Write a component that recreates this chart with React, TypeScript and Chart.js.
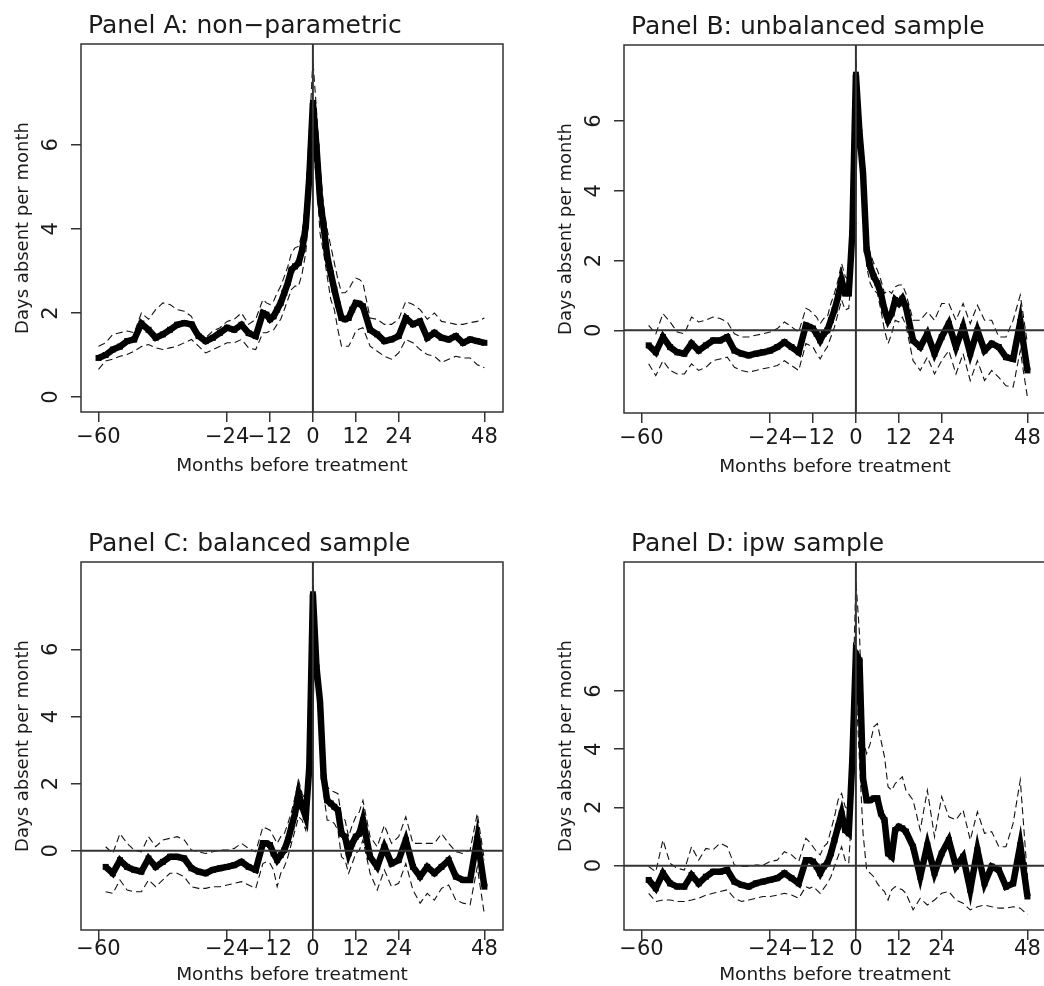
import React, { useEffect, useRef } from 'react';
import { Chart, registerables } from 'chart.js';

Chart.register(...registerables);

const FONT = '"DejaVu Sans", "Liberation Sans", Arial, sans-serif';

// Months relative to treatment (x positions of the estimates)
const MONTHS = [
  -60, -58, -56, -54, -52, -50, -48, -46, -44, -42, -40, -38, -36, -34, -32, -30, -28, -26, -24, -22, -20, -18, -16, -14,
  -13, -12, -11, -10, -9, -8, -7, -6, -5, -4, -3, -2, -1, 0, 1, 2, 3, 4, 5, 6, 7, 8, 9, 10, 11, 12, 13,
  14, 16, 18, 20, 22, 24, 26, 28, 30, 32, 34, 36, 38, 40, 42, 44, 46, 48,
];

const X_TICKS = [-60, -24, -12, 0, 12, 24, 48];
const Y_TICKS = [0, 2, 4, 6];

// Panel A: non-parametric
const A_MEAN = [
  0.93, 1.0, 1.13, 1.2, 1.33, 1.37, 1.75, 1.6, 1.41, 1.49, 1.6, 1.72, 1.76, 1.73, 1.45, 1.33, 1.41, 1.53, 1.65, 1.6, 1.72, 1.52, 1.45, 2.0,
  1.96, 1.85, 1.92, 2.08, 2.24, 2.48, 2.72, 3.03, 3.11, 3.19, 3.5, 4.06, 5.25, 7.0, 5.96, 4.7, 4.06, 3.35, 2.95, 2.56, 2.2, 1.88, 1.85, 1.88, 2.08, 2.24, 2.22,
  2.16, 1.6, 1.49, 1.33, 1.37, 1.45, 1.88, 1.73, 1.8, 1.41, 1.53, 1.41, 1.37, 1.45, 1.29, 1.37, 1.33, 1.29,
];
const A_UPPER = [
  1.21, 1.29, 1.49, 1.53, 1.57, 1.53, 2.0, 1.85, 2.08, 2.24, 2.2, 2.08, 2.04, 1.92, 1.53, 1.41, 1.57, 1.65, 1.8, 1.85, 2.0, 1.73, 1.85, 2.32,
  2.24, 2.2, 2.28, 2.48, 2.64, 2.87, 3.11, 3.43, 3.55, 3.59, 3.9, 4.7, 6.28, 8.02, 6.83, 5.49, 4.54, 3.98, 3.59, 3.19, 2.8, 2.48, 2.48, 2.56, 2.72, 2.83, 2.8,
  2.72, 1.88, 1.85, 1.73, 1.73, 1.85, 2.28, 2.2, 2.08, 1.85, 2.0, 1.8, 1.77, 1.73, 1.73, 1.77, 1.8, 1.88,
];
const A_LOWER = [
  0.66, 0.86, 0.9, 0.97, 1.01, 1.09, 1.2, 1.25, 1.17, 1.13, 1.17, 1.21, 1.29, 1.37, 1.21, 1.05, 1.13, 1.21, 1.29, 1.29, 1.37, 1.17, 1.13, 1.53,
  1.53, 1.57, 1.6, 1.73, 1.85, 2.08, 2.32, 2.56, 2.64, 2.64, 2.95, 3.43, 4.54, 6.04, 5.17, 3.9, 3.43, 2.87, 2.32, 2.08, 1.6, 1.21, 1.21, 1.21, 1.37, 1.57, 1.62,
  1.65, 1.21, 1.09, 0.97, 0.9, 1.05, 1.37, 1.29, 1.13, 1.01, 0.97, 0.82, 0.9, 0.97, 0.93, 0.93, 0.77, 0.7,
];

// Panel B: unbalanced sample
const B_MEAN = [
  null, -0.43, -0.63, -0.19, -0.48, -0.63, -0.67, -0.38, -0.58, -0.43, -0.29, -0.29, -0.19, -0.58, -0.67, -0.72, -0.67, -0.63, -0.58, -0.48, -0.34, -0.48, -0.63, 0.14,
  0.1, 0.05, -0.1, -0.29, -0.1, 0, 0.29, 0.58, 0.96, 1.44, 1.06, 1.06, 2.79, 7.33, 5.67, 4.5, 2.31, 1.83, 1.54, 1.35, 1.06, 0.58, 0.29, 0.48, 0.87, 0.77, 0.91,
  0.67, -0.29, -0.48, -0.1, -0.67, -0.19, 0.19, -0.48, 0.1, -0.67, 0, -0.58, -0.38, -0.48, -0.77, -0.82, 0.24, -1.15,
];
const B_UPPER = [
  null, 0.14, -0.1, 0.48, 0.24, -0.05, -0.1, 0.38, 0.24, 0.29, 0.38, 0.34, 0.24, -0.1, -0.19, -0.19, -0.14, -0.1, -0.05, 0.05, 0.24, 0.1, -0.05, 0.63,
  0.58, 0.48, 0.38, 0.19, 0.34, 0.38, 0.77, 1.06, 1.44, 1.92, 1.54, 1.44, 3.56, 7.79, 6.25, 5.0, 2.79, 2.21, 1.92, 1.73, 1.44, 1.06, 1.15, 1.06, 1.25, 1.3, 1.3,
  1.06, 0.29, 0.29, 0.53, 0.29, 0.77, 0.77, 0.29, 0.77, 0.19, 0.72, 0.29, 0.29, -0.19, -0.19, 0.29, 1.01, -0.38,
];
const B_LOWER = [
  null, -0.96, -1.3, -0.87, -1.15, -1.25, -1.25, -0.96, -1.15, -1.06, -0.87, -0.82, -0.77, -1.06, -1.15, -1.2, -1.15, -1.1, -1.06, -1.01, -0.87, -1.01, -1.15, -0.38,
  -0.43, -0.48, -0.67, -0.82, -0.63, -0.48, -0.19, 0.1, 0.48, 0.87, 0.58, 0.63, 2.02, 6.63, 5.0, 3.94, 1.83, 1.35, 1.15, 1.06, 0.58, 0, -0.38, -0.1, 0.29, 0.24, 0.38,
  0.14, -0.87, -1.15, -0.77, -1.25, -0.87, -0.58, -1.25, -0.67, -1.44, -0.87, -1.44, -1.15, -1.35, -1.59, -1.63, -0.58, -1.92,
];

// Panel C: balanced sample
const C_MEAN = [
  null, -0.48, -0.67, -0.28, -0.48, -0.57, -0.62, -0.23, -0.48, -0.33, -0.18, -0.18, -0.23, -0.52, -0.62, -0.67, -0.57, -0.52, -0.48, -0.43, -0.33, -0.48, -0.57, 0.22,
  0.22, 0.17, -0.08, -0.28, -0.13, 0.02, 0.32, 0.71, 1.11, 1.7, 1.31, 1.01, 2.5, 7.64, 5.47, 4.43, 2.2, 1.5, 1.41, 1.31, 1.21, 0.51, 0.42, -0.08, 0.22, 0.42, 0.51,
  0.91, -0.18, -0.48, 0.12, -0.38, -0.28, 0.32, -0.48, -0.77, -0.48, -0.67, -0.48, -0.28, -0.77, -0.87, -0.87, 0.37, -1.07,
];
const C_UPPER = [
  null, 0.12, -0.08, 0.51, 0.22, 0.02, -0.03, 0.42, 0.12, 0.32, 0.37, 0.42, 0.32, 0.02, -0.03, -0.08, -0.03, 0.02, 0.02, 0.07, 0.22, 0.07, -0.03, 0.71,
  0.66, 0.61, 0.42, 0.22, 0.42, 0.51, 0.81, 1.16, 1.6, 2.1, 1.7, 1.5, 3.19, 8.14, 6.06, 4.97, 2.69, 1.9, 1.8, 1.75, 1.7, 1.01, 0.91, 0.42, 0.76, 1.01, 1.16,
  1.5, 0.42, 0.12, 0.76, 0.22, 0.42, 1.01, 0.22, 0.22, 0.22, 0.22, 0.51, 0.22, -0.03, -0.08, 0.02, 1.11, -0.28,
];
const C_LOWER = [
  null, -1.22, -1.27, -0.87, -1.17, -1.22, -1.22, -0.87, -1.07, -0.87, -0.67, -0.67, -0.77, -1.07, -1.12, -1.12, -1.07, -1.07, -1.02, -0.97, -0.92, -1.02, -1.12, -0.38,
  -0.33, -0.38, -0.57, -1.07, -0.67, -0.48, -0.18, 0.22, 0.61, 1.01, 0.91, 0.61, 1.8, 7.15, 4.87, 3.88, 1.7, 0.91, 0.91, 0.81, 0.61, -0.18, -0.28, -0.67, -0.38, -0.08, 0.02,
  0.32, -0.67, -1.17, -0.57, -1.07, -0.97, -0.38, -1.17, -1.56, -1.27, -1.47, -1.12, -1.02, -1.47, -1.56, -1.61, -0.48, -1.91,
];

// Panel D: ipw sample
const D_MEAN = [
  null, -0.49, -0.78, -0.26, -0.61, -0.72, -0.72, -0.32, -0.61, -0.38, -0.21, -0.21, -0.15, -0.55, -0.66, -0.72, -0.61, -0.55, -0.49, -0.43, -0.26, -0.43, -0.61, 0.19,
  0.19, 0.14, -0.03, -0.26, -0.03, 0.08, 0.42, 0.88, 1.34, 1.79, 1.22, 1.11, 3.62, 7.28, 7.05, 2.99, 2.25, 2.25, 2.31, 2.31, 1.79, 1.57, 0.42, 0.31, 1.22, 1.34, 1.28,
  1.17, 0.65, -0.38, 0.71, -0.26, 0.42, 0.88, -0.03, 0.31, -0.83, 0.54, -0.61, -0.03, -0.15, -0.72, -0.61, 0.71, -1.06,
];
const D_UPPER = [
  null, -0.03, -0.21, 0.88, 0.08, -0.09, -0.15, 0.65, 0.19, 0.59, 0.54, 0.77, 0.65, 0.02, -0.03, -0.03, 0.02, 0.02, 0.14, 0.19, 0.48, 0.37, 0.14, 0.94,
  0.82, 0.65, 0.48, 0.37, 0.65, 0.77, 1.22, 1.68, 2.25, 2.48, 2.02, 1.91, 5.11, 9.79, 7.97, 4.31, 3.85, 4.19, 4.77, 4.88, 4.31, 3.74, 2.71, 2.59, 2.82, 2.94, 3.05,
  2.59, 2.25, 1.22, 2.59, 0.99, 2.37, 1.68, 1.57, 1.91, 0.88, 1.85, 1.11, 1.17, 0.65, 0.65, 1.45, 2.94, -0.38,
];
const D_LOWER = [
  null, -0.95, -1.23, -1.18, -1.18, -1.23, -1.23, -1.18, -1.12, -1.01, -0.95, -0.89, -0.83, -1.12, -1.23, -1.18, -1.12, -1.06, -1.06, -1.01, -0.95, -1.01, -1.12, -0.72,
  -0.78, -0.72, -0.83, -0.95, -0.78, -0.61, -0.38, -0.03, 0.31, 0.65, 0.19, 0.08, 2.25, 6.14, 3.62, 1.11, -0.15, -0.26, -0.38, -0.61, -0.78, -0.89, -1.18, -0.83, -0.72, -0.78, -0.83,
  -0.95, -1.52, -1.12, -1.35, -1.18, -0.95, -0.89, -1.18, -1.29, -1.52, -1.41, -1.35, -1.41, -1.46, -1.46, -1.41, -1.46, -1.69,
];

const TITLES = ['Panel A: non\u2212parametric', 'Panel B: unbalanced sample', 'Panel C: balanced sample', 'Panel D: ipw sample'];
const X_LABEL = 'Months before treatment';
const Y_LABEL = 'Days absent per month';

type PanelSpec = {
  title: string;
  mean: (number | null)[];
  upper: (number | null)[];
  lower: (number | null)[];
  yMin: number;
  yMax: number;
  hZero: boolean;
  left: number;
  top: number;
  tickPad: number;
  titlePad: number;
};

const X_MIN = -64.9;
const X_MAX = 53.2;

const PANELS: PanelSpec[] = [
  { title: TITLES[0], mean: A_MEAN, upper: A_UPPER, lower: A_LOWER, yMin: -0.356, yMax: 8.4, hZero: false, left: 0, top: 0, tickPad: 3, titlePad: 13 },
  { title: TITLES[1], mean: B_MEAN, upper: B_UPPER, lower: B_LOWER, yMin: -2.37, yMax: 8.18, hZero: true, left: 543, top: 1, tickPad: 3, titlePad: 13 },
  { title: TITLES[2], mean: C_MEAN, upper: C_UPPER, lower: C_LOWER, yMin: -2.36, yMax: 8.6, hZero: true, left: 0, top: 518, tickPad: -3, titlePad: 22 },
  { title: TITLES[3], mean: D_MEAN, upper: D_UPPER, lower: D_LOWER, yMin: -2.21, yMax: 10.43, hZero: true, left: 543, top: 518, tickPad: -3, titlePad: 22 },
];

const CW = 520;
const CH = 490;

const fmt = (v: number) => (v < 0 ? '\u2212' + Math.abs(v) : String(v));

const framePlugin = {
  id: 'frame',
  afterDatasetsDraw(chart: any) {
    const { ctx, chartArea: a } = chart;
    ctx.save();
    ctx.strokeStyle = '#333';
    ctx.lineWidth = 1.5;
    ctx.strokeRect(a.left, a.top, a.right - a.left, a.bottom - a.top);
    ctx.restore();
  },
  afterDraw(chart: any, _args: any, opts: any) {
    const { ctx, chartArea: a } = chart;
    ctx.save();
    ctx.fillStyle = '#1a1a1a';
    ctx.font = `25px ${FONT}`;
    ctx.textBaseline = 'alphabetic';
    ctx.textAlign = 'left';
    ctx.fillText(opts.text, a.left + 7, a.top - 11);
    ctx.restore();
  },
};

function toPoints(arr: (number | null)[]) {
  return MONTHS.map((m, i) => ({ x: m, y: arr[i] }));
}

function Panel({ spec }: { spec: PanelSpec }) {
  const ref = useRef<HTMLCanvasElement>(null);
  useEffect(() => {
    const refColor = '#333';
    const datasets: any[] = [
      {
        label: 'zeroV',
        data: [{ x: 0, y: spec.yMin }, { x: 0, y: spec.yMax }],
        borderColor: refColor,
        borderWidth: 2,
        pointRadius: 0,
      },
    ];
    if (spec.hZero) {
      datasets.push({
        label: 'zeroH',
        data: [{ x: X_MIN, y: 0 }, { x: X_MAX, y: 0 }],
        borderColor: refColor,
        borderWidth: 2,
        pointRadius: 0,
      });
    }
    datasets.push(
      {
        label: 'mean',
        data: toPoints(spec.mean),
        borderColor: '#000',
        borderWidth: 6.5,
        pointStyle: 'rect',
        pointRadius: 4.2,
        pointBackgroundColor: '#000',
        pointBorderWidth: 0,
      },
      {
        label: 'upper',
        data: toPoints(spec.upper),
        borderColor: '#111',
        borderWidth: 1.1,
        borderDash: [7, 4],
        pointRadius: 0,
      },
      {
        label: 'lower',
        data: toPoints(spec.lower),
        borderColor: '#111',
        borderWidth: 1.1,
        borderDash: [7, 4],
        pointRadius: 0,
      }
    );

    const chart = new Chart(ref.current as HTMLCanvasElement, {
      type: 'line',
      data: { datasets },
      options: {
        animation: false,
        responsive: false,
        maintainAspectRatio: false,
        devicePixelRatio: 1,
        layout: { padding: { left: 0, top: 44, right: 17, bottom: 0 } },
        plugins: {
          legend: { display: false },
          tooltip: { enabled: false },
          title: { display: false },
          frame: { text: spec.title },
        } as any,
        scales: {
          x: {
            type: 'linear',
            position: 'bottom',
            min: X_MIN,
            max: X_MAX,
            afterBuildTicks: (s: any) => {
              s.ticks = X_TICKS.map((v) => ({ value: v }));
            },
            afterFit: (s: any) => {
              s.height = 78;
            },
            border: { display: false },
            grid: { drawOnChartArea: false, drawTicks: true, tickLength: 10, color: '#333', lineWidth: 1.5 },
            ticks: {
              autoSkip: false,
              maxRotation: 0,
              minRotation: 0,
              padding: spec.tickPad,
              color: '#1a1a1a',
              font: { family: FONT, size: 21 },
              callback: (v: any) => fmt(Number(v)),
            },
            title: {
              display: true,
              text: X_LABEL,
              color: '#1a1a1a',
              font: { family: FONT, size: 18.5 },
              padding: { top: 0, bottom: spec.titlePad },
            },
          },
          y: {
            type: 'linear',
            position: 'left',
            min: spec.yMin,
            max: spec.yMax,
            afterBuildTicks: (s: any) => {
              s.ticks = Y_TICKS.map((v) => ({ value: v }));
            },
            afterFit: (s: any) => {
              s.width = 81;
            },
            border: { display: false },
            grid: { drawOnChartArea: false, drawTicks: true, tickLength: 10, color: '#333', lineWidth: 1.5 },
            ticks: {
              autoSkip: false,
              minRotation: 90,
              maxRotation: 90,
              crossAlign: 'center',
              padding: 13,
              color: '#1a1a1a',
              font: { family: FONT, size: 21 },
              callback: (v: any) => fmt(Number(v)),
            },
            title: {
              display: true,
              text: Y_LABEL,
              color: '#1a1a1a',
              font: { family: FONT, size: 18 },
              padding: { top: 13, bottom: 0 },
            },
          },
        },
      } as any,
      plugins: [framePlugin],
    });
    return () => chart.destroy();
  }, [spec]);

  return (
    <canvas
      ref={ref}
      width={CW}
      height={CH}
      style={{ position: 'absolute', left: spec.left, top: spec.top, width: CW, height: CH }}
    />
  );
}

export default function App() {
  return (
    <div
      style={{
        position: 'absolute',
        left: 0,
        top: 0,
        width: 1044,
        height: 986,
        overflow: 'hidden',
        background: '#fff',
      }}
    >
      {PANELS.map((p) => (
        <Panel key={p.title} spec={p} />
      ))}
    </div>
  );
}
